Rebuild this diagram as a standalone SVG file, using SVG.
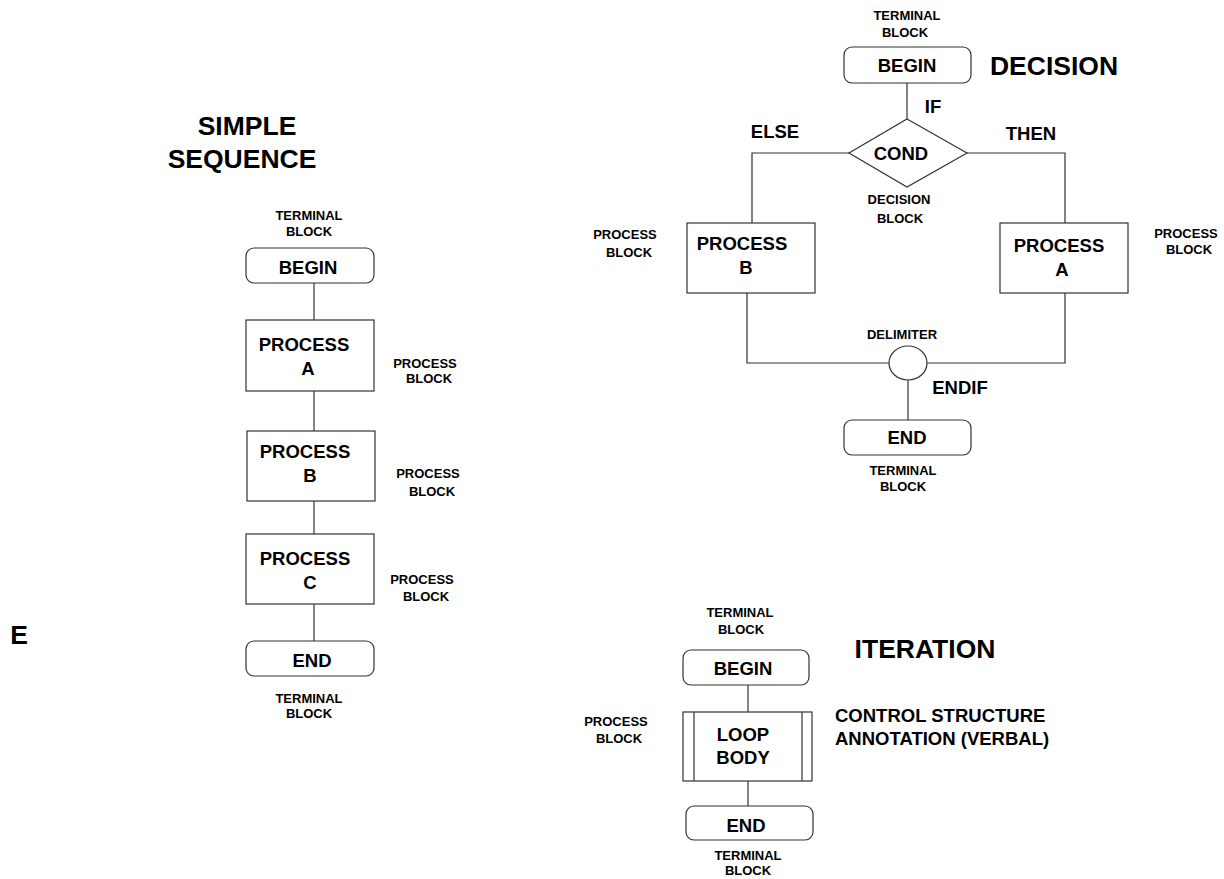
<svg xmlns="http://www.w3.org/2000/svg" width="1224" height="879" viewBox="0 0 1224 879">
  <style>
    text { font-family: "Liberation Sans", Arial, sans-serif; font-weight: bold; fill: #000; text-anchor: middle; }
    .title { font-size: 26.5px; }
    .node { font-size: 18.5px; }
    .note { font-size: 13px; }
    .shape { fill: #fff; stroke: #333; stroke-width: 1.2; }
    .wire { fill: none; stroke: #333; stroke-width: 1.2; }
  </style>

  <rect width="1224" height="879" fill="#fff"/>

  <!-- Section titles and free labels -->
  <g id="titles">
    <text class="title" x="247" y="135">SIMPLE</text>
    <text class="title" x="242" y="168">SEQUENCE</text>
    <text class="title" x="1054" y="75">DECISION</text>
    <text class="title" x="925" y="658">ITERATION</text>
    <text class="title" x="19" y="644">E</text>
    <text class="node" x="835" y="722" style="text-anchor:start">CONTROL STRUCTURE</text>
    <text class="node" x="835" y="745" style="text-anchor:start">ANNOTATION (VERBAL)</text>
  </g>

  <!-- Connectors -->
  <g id="connectors">
    <!-- simple sequence -->
    <line class="wire" x1="314" y1="283" x2="314" y2="320"/>
    <line class="wire" x1="314" y1="391" x2="314" y2="431"/>
    <line class="wire" x1="314" y1="501" x2="314" y2="534"/>
    <line class="wire" x1="314" y1="604" x2="314" y2="641"/>
    <!-- decision -->
    <line class="wire" x1="907" y1="83" x2="907" y2="119"/>
    <polyline class="wire" points="849,153 752,153 752,223"/>
    <polyline class="wire" points="967,153 1065,153 1065,223"/>
    <polyline class="wire" points="747,293 747,363 889,363"/>
    <polyline class="wire" points="1065,293 1065,363 927,363"/>
    <line class="wire" x1="908" y1="380" x2="908" y2="420"/>
    <!-- iteration -->
    <line class="wire" x1="748" y1="685" x2="748" y2="712"/>
    <line class="wire" x1="748" y1="781" x2="748" y2="806"/>
  </g>

  <!-- Simple sequence -->
  <g id="seq-begin">
    <text class="note" x="309" y="220">TERMINAL</text>
    <text class="note" x="309" y="236">BLOCK</text>
    <rect class="shape" x="246" y="248" width="128" height="35" rx="8"/>
    <text class="node" x="308" y="274">BEGIN</text>
  </g>
  <g id="seq-process-a">
    <rect class="shape" x="246" y="320" width="128" height="71"/>
    <text class="node" x="304" y="351">PROCESS</text>
    <text class="node" x="308" y="375">A</text>
    <text class="note" x="425" y="368">PROCESS</text>
    <text class="note" x="429" y="383">BLOCK</text>
  </g>
  <g id="seq-process-b">
    <rect class="shape" x="247" y="431" width="128" height="70"/>
    <text class="node" x="305" y="458">PROCESS</text>
    <text class="node" x="310" y="482">B</text>
    <text class="note" x="428" y="478">PROCESS</text>
    <text class="note" x="432" y="496">BLOCK</text>
  </g>
  <g id="seq-process-c">
    <rect class="shape" x="246" y="534" width="128" height="70"/>
    <text class="node" x="305" y="565">PROCESS</text>
    <text class="node" x="310" y="589">C</text>
    <text class="note" x="422" y="584">PROCESS</text>
    <text class="note" x="426" y="601">BLOCK</text>
  </g>
  <g id="seq-end">
    <rect class="shape" x="246" y="641" width="128" height="35" rx="8"/>
    <text class="node" x="312" y="667">END</text>
    <text class="note" x="309" y="703">TERMINAL</text>
    <text class="note" x="309" y="718">BLOCK</text>
  </g>

  <!-- Decision -->
  <g id="dec-begin">
    <text class="note" x="907" y="20">TERMINAL</text>
    <text class="note" x="905" y="37">BLOCK</text>
    <rect class="shape" x="844" y="47" width="127" height="36" rx="8"/>
    <text class="node" x="907" y="72">BEGIN</text>
  </g>
  <g id="dec-cond">
    <polygon class="shape" points="907,119 967,153 907,187 849,153"/>
    <text class="node" x="901" y="160">COND</text>
    <text class="node" x="933" y="113">IF</text>
    <text class="node" x="775" y="138">ELSE</text>
    <text class="node" x="1031" y="140">THEN</text>
    <text class="note" x="899" y="204">DECISION</text>
    <text class="note" x="900" y="223">BLOCK</text>
  </g>
  <g id="dec-process-b">
    <rect class="shape" x="687" y="223" width="128" height="70"/>
    <text class="node" x="742" y="250">PROCESS</text>
    <text class="node" x="746" y="274">B</text>
    <text class="note" x="625" y="239">PROCESS</text>
    <text class="note" x="629" y="257">BLOCK</text>
  </g>
  <g id="dec-process-a">
    <rect class="shape" x="1000" y="223" width="128" height="70"/>
    <text class="node" x="1059" y="252">PROCESS</text>
    <text class="node" x="1062" y="276">A</text>
    <text class="note" x="1186" y="238">PROCESS</text>
    <text class="note" x="1189" y="254">BLOCK</text>
  </g>
  <g id="dec-delimiter">
    <ellipse class="shape" cx="908" cy="363" rx="19" ry="17"/>
    <text class="note" x="902" y="339">DELIMITER</text>
    <text class="node" x="960" y="394">ENDIF</text>
  </g>
  <g id="dec-end">
    <rect class="shape" x="844" y="420" width="127" height="35" rx="8"/>
    <text class="node" x="907" y="444">END</text>
    <text class="note" x="903" y="475">TERMINAL</text>
    <text class="note" x="903" y="491">BLOCK</text>
  </g>

  <!-- Iteration -->
  <g id="it-begin">
    <text class="note" x="740" y="617">TERMINAL</text>
    <text class="note" x="741" y="634">BLOCK</text>
    <rect class="shape" x="683" y="650" width="126" height="35" rx="8"/>
    <text class="node" x="743" y="675">BEGIN</text>
  </g>
  <g id="it-loop">
    <rect class="shape" x="683" y="712" width="129" height="69"/>
    <line class="wire" x1="694" y1="712" x2="694" y2="781"/>
    <line class="wire" x1="802" y1="712" x2="802" y2="781"/>
    <text class="node" x="743" y="741">LOOP</text>
    <text class="node" x="743" y="764">BODY</text>
    <text class="note" x="616" y="726">PROCESS</text>
    <text class="note" x="619" y="743">BLOCK</text>
  </g>
  <g id="it-end">
    <rect class="shape" x="686" y="806" width="127" height="34" rx="8"/>
    <text class="node" x="746" y="832">END</text>
    <text class="note" x="748" y="860">TERMINAL</text>
    <text class="note" x="748" y="875">BLOCK</text>
  </g>
</svg>
